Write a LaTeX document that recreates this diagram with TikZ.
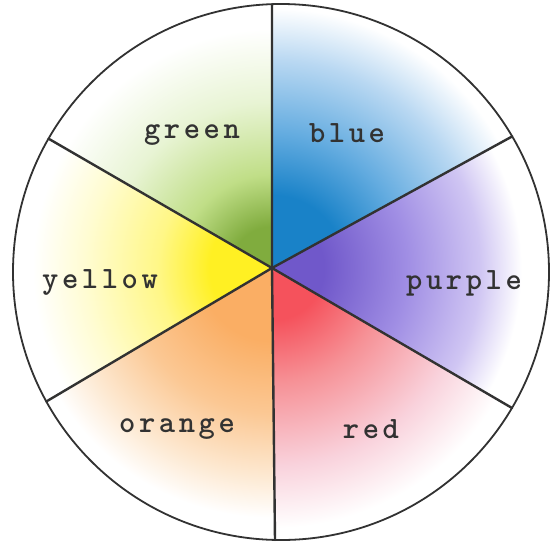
\documentclass[tikz,border=0pt]{standalone}
\usepackage{fontspec}
\usetikzlibrary{calc}
\makeatletter
\newcommand\spacedtext[1]{\@tfor\ltr:=#1\do{\ltr\kern3.6pt}\unkern}
\makeatother
\definecolor{ink}{RGB}{50,50,50}
\definecolor{gA}{RGB}{128,172,62}
\definecolor{gB}{RGB}{192,222,135}
\definecolor{gC}{RGB}{232,244,212}
\definecolor{bA}{RGB}{25,130,200}
\definecolor{bB}{RGB}{100,172,224}
\definecolor{bC}{RGB}{185,216,242}
\definecolor{pA}{RGB}{112,88,202}
\definecolor{pB}{RGB}{160,142,228}
\definecolor{pC}{RGB}{208,198,243}
\definecolor{rA}{RGB}{245,82,92}
\definecolor{rB}{RGB}{246,145,150}
\definecolor{rC}{RGB}{249,210,220}
\definecolor{oA}{RGB}{250,174,100}
\definecolor{oB}{RGB}{251,200,148}
\definecolor{oC}{RGB}{253,233,210}
\definecolor{yA}{RGB}{255,240,35}
\definecolor{yB}{RGB}{255,247,135}
\definecolor{yC}{RGB}{255,252,210}
\pgfdeclareradialshading{shgreen}{\pgfpoint{0bp}{0bp}}{color(0bp)=(gA); color(4bp)=(gA); color(9bp)=(gB); color(16bp)=(gC); color(23bp)=(white); color(50bp)=(white)}
\pgfdeclareradialshading{shblue}{\pgfpoint{0bp}{0bp}}{color(0bp)=(bA); color(7bp)=(bA); color(13bp)=(bB); color(20bp)=(bC); color(25bp)=(white); color(50bp)=(white)}
\pgfdeclareradialshading{shpurple}{\pgfpoint{0bp}{0bp}}{color(0bp)=(pA); color(5bp)=(pA); color(13bp)=(pB); color(20bp)=(pC); color(24bp)=(white); color(50bp)=(white)}
\pgfdeclareradialshading{shred}{\pgfpoint{0bp}{0bp}}{color(0bp)=(rA); color(5bp)=(rA); color(11bp)=(rB); color(19bp)=(rC); color(25bp)=(white); color(50bp)=(white)}
\pgfdeclareradialshading{shorange}{\pgfpoint{0bp}{0bp}}{color(0bp)=(oA); color(7bp)=(oA); color(14bp)=(oB); color(20bp)=(oC); color(24bp)=(white); color(50bp)=(white)}
\pgfdeclareradialshading{shyellow}{\pgfpoint{0bp}{0bp}}{color(0bp)=(yA); color(6bp)=(yA); color(11bp)=(yB); color(18bp)=(yC); color(23bp)=(white); color(50bp)=(white)}
\tikzset{
  rim/.style={draw=ink, line width=1.8pt},
  spoke/.style={draw=ink, line width=2.4pt, line cap=round, line join=round},
  lbl/.style={anchor=base, inner sep=0pt, text=ink, font=\ttfamily\bfseries\fontsize{31}{35}\selectfont}
}
\begin{document}
\begin{tikzpicture}[x=1pt,y=-1pt]
\useasboundingbox[fill=white] (0,0) rectangle (560,542);
\coordinate (C) at (281,272);
\coordinate (H) at (272,268);
\coordinate (T) at (272,4.2);
\coordinate (B) at (275,540);
\coordinate (UL) at (48.6,138.7);
\coordinate (LL) at (46.3,401.5);
\coordinate (UR) at (512.2,136.4);
\coordinate (LR) at (512,408);
\begin{scope}
  \clip (C) circle[radius=268pt];
  \foreach \a/\b/\s in {T/UR/shblue, UR/LR/shpurple, LR/B/shred, B/LL/shorange, LL/UL/shyellow, UL/T/shgreen}{
    \begin{scope}
      \clip (H) -- ($(H)!2.2!(\a)$) -- ($(H)!2.2!(\b)$) -- cycle;
      \shade[shading=\s] (H) circle[radius=260pt];
    \end{scope}
  }
\end{scope}
\draw[rim] (C) circle[radius=268pt];
\draw[spoke] (T) -- (H) -- (B);
\draw[spoke] (UL) -- (H) -- (LR);
\draw[spoke] (UR) -- (H) -- (LL);
\node[lbl] (green) at (192,138) {\spacedtext{green}};
\node[lbl] (blue) at (347,142) {\spacedtext{blue}};
\node[lbl] (yellow) at (100,288) {\spacedtext{yellow}};
\node[lbl] (purple) at (464,289) {\spacedtext{purple}};
\node[lbl] (orange) at (177,432) {\spacedtext{orange}};
\node[lbl] (red) at (371,438) {\spacedtext{red}};
\end{tikzpicture}
\end{document}
